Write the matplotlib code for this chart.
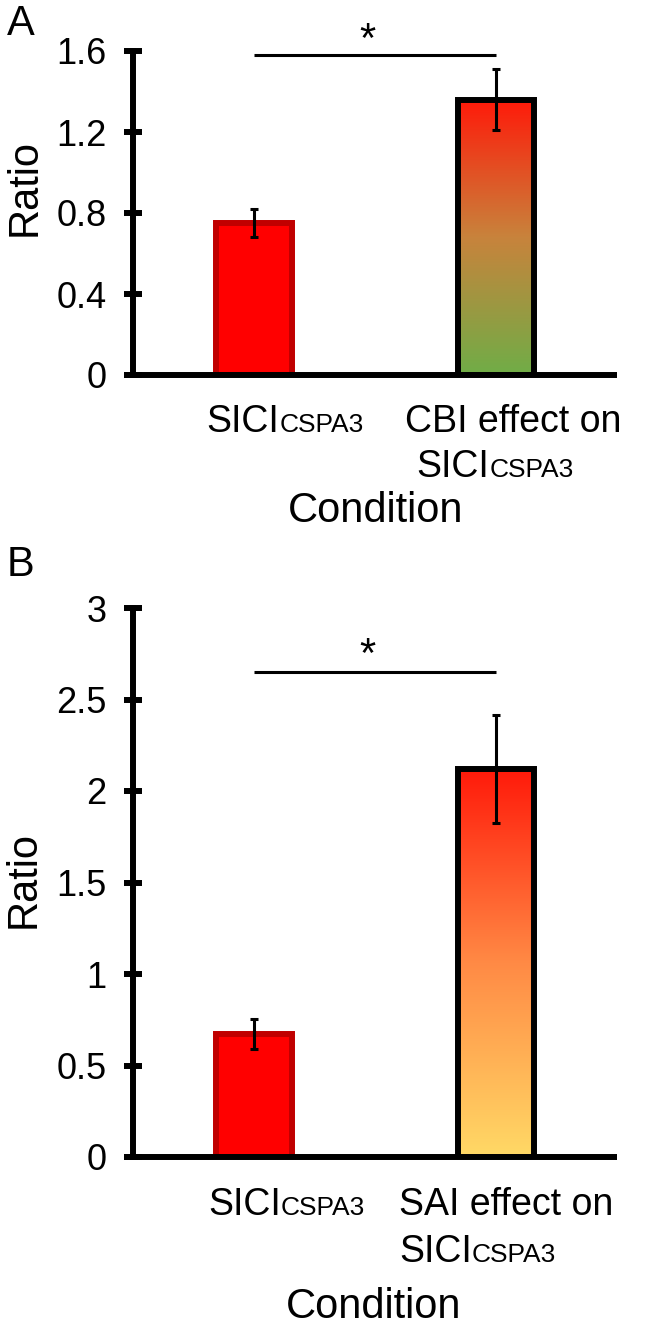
## Two-panel bar chart: SICI ratio with and without conditioning.

import numpy as np
import matplotlib
matplotlib.use('Agg')
import matplotlib.pyplot as plt
import matplotlib.transforms as mtransforms
from matplotlib.colors import LinearSegmentedColormap

plt.rcParams['font.family'] = ['Liberation Sans', 'DejaVu Sans']

## data
conditions_a = ['SICI', 'CBI effect on\nSICI']
ratio_a = [0.75, 1.36]
err_a = [0.068, 0.152]
sig_a = 1.58
yticks_a = [0, 0.4, 0.8, 1.2, 1.6]
yticklabels_a = ['0', '0.4', '0.8', '1.2', '1.6']

conditions_b = ['SICI', 'SAI effect on\nSICI']
ratio_b = [0.67, 2.12]
err_b = [0.082, 0.295]
sig_b = 2.65
yticks_b = [0, 0.5, 1, 1.5, 2, 2.5, 3]
yticklabels_b = ['0', '0.5', '1', '1.5', '2', '2.5', '3']

grad_a = ['#70AD47', '#C8833C', '#FF1A0A']   # bottom -> top
grad_b = ['#FFD966', '#FF8A45', '#FF1A0A']

W, H = 656, 1327
fig = plt.figure(figsize=(W/100, H/100), dpi=100)

def px_axes(x0, y_top, x1, y_bot):
  return fig.add_axes([x0/W, 1 - y_bot/H, (x1 - x0)/W, (y_bot - y_top)/H])

def draw_panel(ax, vals, errs, sig, yticks, yticklabels, grad):
  x = np.arange(len(vals))
  w = 0.315
  # plain red bar
  ax.bar(x[0], vals[0], w, color='#FF0000', edgecolor='#C00000', linewidth=4.3, zorder=2)
  # gradient bar
  b = ax.bar(x[1], vals[1], w, color='none', edgecolor='black', linewidth=4.3, zorder=3)[0]
  cmap = LinearSegmentedColormap.from_list('g', grad)
  grid = np.linspace(0, 1, 256).reshape(-1, 1)
  im = ax.imshow(grid, cmap=cmap, extent=[x[1]-w/2, x[1]+w/2, 0, vals[1]],
                 origin='lower', aspect='auto', zorder=2)
  im.set_clip_path(b)
  ax.errorbar(x, vals, yerr=errs, fmt='none', ecolor='black', elinewidth=2.2,
              capsize=3, capthick=2.2, zorder=4)
  # significance bar
  ax.plot([x[0], x[1]], [sig, sig], color='black', lw=2.2, solid_capstyle='butt', zorder=4)
  ax.text((x[0]+x[1])/2 - 0.03, sig + 0.01*yticks[-1], '*', fontsize=30,
          ha='center', va='baseline', clip_on=False)

  ax.set_xlim(-0.5, 1.5)
  ax.set_ylim(0, yticks[-1])
  ax.set_yticks(yticks)
  ax.set_yticklabels(yticklabels, fontsize=26)
  ax.set_xticks([])
  for s in ['top', 'right', 'bottom']:
    ax.spines[s].set_visible(False)
  ax.spines['left'].set_linewidth(4.3)
  ax.tick_params(axis='y', direction='inout', length=12.5, width=4.3, pad=13)
  # x axis line sticks out left past the spine like the ticks
  ax.plot([-0.018, 1.0], [0, 0], transform=ax.transAxes, color='black',
          lw=4.3, solid_capstyle='butt', clip_on=False, zorder=5)

subs = []
def label(ax, xd, ypx, main, sub=None):
  # x in data units, y in figure pixels (from top)
  tr = mtransforms.blended_transform_factory(ax.transData, fig.transFigure)
  t = ax.text(xd, 1 - ypx/H, main, fontsize=27, ha='left', va='baseline',
              transform=tr, clip_on=False)
  if sub:
    subs.append((t, ypx, sub))
  return t

## panel A
axA = px_axes(133, 51, 617, 375)
draw_panel(axA, ratio_a, err_a, sig_a, yticks_a, yticklabels_a, grad_a)
label(axA, -0.195, 432, 'SICI', 'CSPA3')
label(axA, 0.622, 432, 'CBI effect on')
label(axA, 0.672, 477, 'SICI', 'CSPA3')
fig.text(376/W, 1 - 522/H, 'Condition', fontsize=30, ha='center', va='baseline')
fig.text(25/W, 1 - 187/H, 'Ratio', fontsize=30, rotation=90, ha='center', va='center')
fig.text(21/W, 1 - 24/H, 'A', fontsize=30, ha='center', va='center')

## panel B
axB = px_axes(133, 608, 617, 1157)
draw_panel(axB, ratio_b, err_b, sig_b, yticks_b, yticklabels_b, grad_b)
label(axB, -0.19, 1215, 'SICI', 'CSPA3')
label(axB, 0.60, 1215, 'SAI effect on')
label(axB, 0.60, 1262, 'SICI', 'CSPA3')
fig.text(374/W, 1 - 1318/H, 'Condition', fontsize=30, ha='center', va='baseline')
fig.text(24/W, 1 - 880/H, 'Ratio', fontsize=30, rotation=90, ha='center', va='center')
fig.text(21/W, 1 - 565/H, 'B', fontsize=30, ha='center', va='center')

# small-caps style "subscript" sits on the same baseline as the main text
fig.canvas.draw()
r = fig.canvas.get_renderer()
for t, ypx, sub in subs:
  bb = t.get_window_extent(r)
  fig.text(bb.x1/W, 1 - ypx/H, sub, fontsize=19, ha='left', va='baseline')

plt.savefig('out.png', dpi=100)
